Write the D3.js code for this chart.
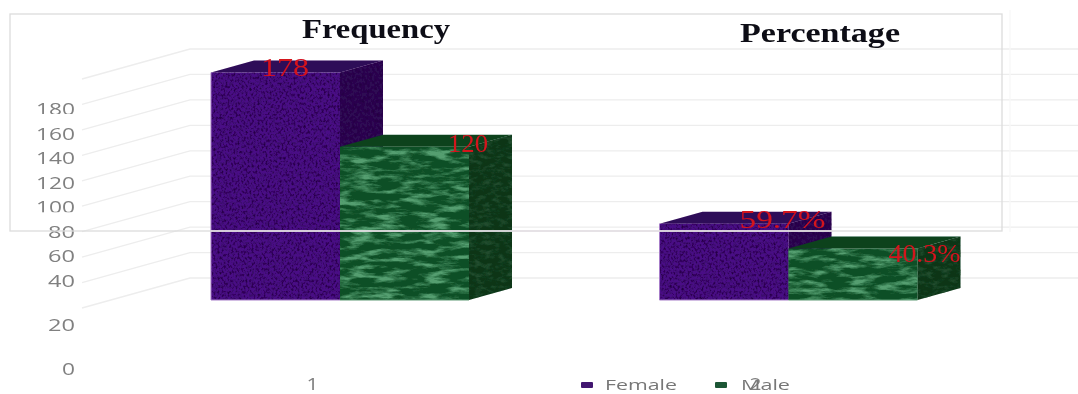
<!DOCTYPE html>
<html>
<head>
<meta charset="utf-8">
<script src="https://cdn.jsdelivr.net/npm/d3@7"></script>
<style>
    html, body { margin: 0; padding: 0; background: #fff; overflow: hidden; }
    svg { display: block; }
    .tick-label text { font-family: "Open Sans", sans-serif; fill: #808080; }
    .chart-title { font-family: "Liberation Serif", serif; font-weight: bold; font-size: 28px; fill: #0c0c14; }
    .value-label { font-family: "Liberation Serif", serif; font-size: 25px; fill: #d3121f; }
    .legend-label { font-family: "Open Sans", sans-serif; font-size: 15px; fill: #777; }
</style>
</head>
<body>
<svg id="chart"></svg>
<script>
    const WIDTH = 1078;
    const HEIGHT = 394;

    // Values
    const categories = ['1', '2'];
    const titles = ['Frequency', 'Percentage'];
    const seriesNames = ['Female', 'Male'];
    const femaleValues = [178, 59.7];
    const maleValues = [120, 40.3];
    const femaleLabels = ['178', '59.7%'];
    const maleLabels = ['120', '40.3%'];
    const axisTicks = [0, 20, 40, 60, 80, 100, 120, 140, 160, 180];

    const DEPTH_X = 43;
    const DEPTH_Y = 12;
    const BAR_WIDTH = 129;

    const COLORS = {
        Female: { front: '#4a0c86', top: '#2f0a58', side: '#2d0752', edge: '#a67cc8', swatch: '#43176f' },
        Male: { front: '#0e4f26', top: '#0b431f', side: '#0a3517', edge: '#5c9a74', swatch: '#1f5634' }
    };

    const svg = d3.select('#chart').attr('width', WIDTH).attr('height', HEIGHT);

    // Scales. The tick labels are not evenly spaced in the source, hence the piecewise one
    const groupX = d3.scalePoint().domain(categories).range([211, 659.5]);
    const seriesX = d3.scaleBand().domain(seriesNames).range([0, BAR_WIDTH * 2]);
    const barY = d3.scaleLinear().domain([0, 180]).range([300, 70]);
    const gridY = d3.scaleLinear().domain([0, 180]).range([308, 79]);
    const labelY = d3.scaleLinear().domain([0, 20, 40, 180]).range([369, 325, 281, 109]);
    const categoryX = d3.scalePoint().domain(categories).range([312, 755]);

    const defs = svg.append('defs');

    function addTexture(id, baseFrequency, octaves, color, alphaGain, alphaShift) {
        const f = defs.append('filter')
            .attr('id', id)
            .attr('x', 0).attr('y', 0).attr('width', 1).attr('height', 1)
            .attr('color-interpolation-filters', 'sRGB');
        f.append('feTurbulence')
            .attr('type', 'fractalNoise')
            .attr('baseFrequency', baseFrequency)
            .attr('numOctaves', octaves)
            .attr('seed', 7)
            .attr('result', 'noise');
        f.append('feColorMatrix')
            .attr('in', 'noise')
            .attr('type', 'matrix')
            .attr('values', `0 0 0 0 ${color[0]} 0 0 0 0 ${color[1]} 0 0 0 0 ${color[2]} ${alphaGain} 0 0 0 ${alphaShift}`)
            .attr('result', 'tint');
        f.append('feComposite')
            .attr('in', 'tint')
            .attr('in2', 'SourceGraphic')
            .attr('operator', 'in')
            .attr('result', 'clipped');
        const merge = f.append('feMerge');
        merge.append('feMergeNode').attr('in', 'SourceGraphic');
        merge.append('feMergeNode').attr('in', 'clipped');
    }

    addTexture('tex-female', '0.5 0.35', 3, [0.14, 0.0, 0.26], 2.4, -1.0);
    addTexture('tex-male', '0.04 0.16', 5, [0.33, 0.62, 0.44], 3.6, -1.6);
    addTexture('tex-male-side', '0.12 0.22', 4, [0.13, 0.3, 0.18], 3, -1.3);
    addTexture('tex-female-side', '0.4 0.3', 2, [0.12, 0.0, 0.22], 1.6, -0.7);

    const soften = defs.append('filter').attr('id', 'soften');
    soften.append('feGaussianBlur').attr('stdDeviation', 0.55);

    const root = svg.append('g').attr('filter', 'url(#soften)');

    // Gridlines: slanted floor part, then flat back wall part
    const grid = root.append('g').attr('fill', 'none').attr('stroke', '#ededed').attr('stroke-width', 1.3);
    grid.selectAll('path')
        .data(axisTicks)
        .join('path')
        .attr('d', d => `M82,${gridY(d)}L190,${gridY(d) - 30}L${WIDTH},${gridY(d) - 30}`);

    grid.append('line')
        .attr('x1', 1010).attr('x2', 1010).attr('y1', 10).attr('y2', 232)
        .attr('stroke', '#f8f8f8');

    // Tick labels
    const yAxis = d3.axisLeft(labelY).tickValues(axisTicks).tickSize(0).tickPadding(0);
    const yAxisG = root.append('g')
        .attr('class', 'tick-label')
        .attr('transform', 'translate(75,0)')
        .call(yAxis);
    yAxisG.select('.domain').remove();
    yAxisG.selectAll('text')
        .attr('font-size', 17)
        .attr('textLength', d => d >= 100 ? 39 : d > 0 ? 27 : 13)
        .attr('lengthAdjust', 'spacingAndGlyphs');

    // the source clips a few of these labels with white strips
    root.append('g').attr('fill', '#fff')
        .selectAll('rect')
        .data([180, 100])
        .join('rect')
        .attr('x', 30).attr('width', 46)
        .attr('y', d => labelY(d) + 5).attr('height', 3);

    const xAxis = d3.axisBottom(categoryX).tickSize(0).tickPadding(0);
    const xAxisG = root.append('g')
        .attr('class', 'tick-label')
        .attr('transform', 'translate(0,379)')
        .call(xAxis);
    xAxisG.select('.domain').remove();
    xAxisG.selectAll('text')
        .attr('font-size', 16)
        .attr('textLength', 12)
        .attr('lengthAdjust', 'spacingAndGlyphs');

    // Bars, back to front so male sits over the female side wall
    const barData = [];
    seriesNames.forEach((name, s) => {
        const values = s === 0 ? femaleValues : maleValues;
        const labels = s === 0 ? femaleLabels : maleLabels;
        categories.forEach((cat, i) => {
            barData.push({ name, cat, value: values[i], label: labels[i] });
        });
    });

    function facePoints(d) {
        const x0 = groupX(d.cat) + seriesX(d.name);
        const x1 = x0 + BAR_WIDTH;
        const y0 = barY(d.value);
        const y1 = barY(0);
        return {
            front: [[x0, y0], [x1, y0], [x1, y1], [x0, y1]],
            top: [[x0, y0], [x0 + DEPTH_X, y0 - DEPTH_Y], [x1 + DEPTH_X, y0 - DEPTH_Y], [x1, y0]],
            side: [[x1, y0], [x1 + DEPTH_X, y0 - DEPTH_Y], [x1 + DEPTH_X, y1 - DEPTH_Y], [x1, y1]]
        };
    }

    const bars = root.append('g').selectAll('g')
        .data(barData)
        .join('g');

    bars.append('polygon')
        .attr('points', d => facePoints(d).side.join(' '))
        .attr('fill', d => COLORS[d.name].side)
        .attr('filter', d => d.name === 'Male' ? 'url(#tex-male-side)' : 'url(#tex-female-side)');

    bars.append('polygon')
        .attr('points', d => facePoints(d).top.join(' '))
        .attr('fill', d => COLORS[d.name].top);

    bars.append('polygon')
        .attr('points', d => facePoints(d).front.join(' '))
        .attr('fill', d => COLORS[d.name].front)
        .attr('filter', d => d.name === 'Male' ? 'url(#tex-male)' : 'url(#tex-female)');

    // thin pale edge along the left and bottom of each bar
    bars.append('path')
        .attr('fill', 'none')
        .attr('stroke', d => COLORS[d.name].edge)
        .attr('stroke-width', 1)
        .attr('d', d => {
            const f = facePoints(d).front;
            return d.name === 'Female'
                ? `M${f[0]}L${f[3]}L${f[2]}`
                : `M${f[3]}L${f[2]}`;
        });

    // Frame laid over the chart, its bottom edge cuts across the bars
    root.append('rect')
        .attr('x', 10).attr('y', 14)
        .attr('width', 992).attr('height', 217)
        .attr('fill', 'none')
        .attr('stroke', '#dcdcdc')
        .attr('stroke-width', 1.3);
    root.append('line')
        .attr('x1', 211).attr('x2', 833)
        .attr('y1', 231).attr('y2', 231)
        .attr('stroke', '#e6e0e6')
        .attr('stroke-width', 1.4);

    // Titles
    const titleX = [302, 740];
    const titleBase = [38, 42];
    const titleWidth = [148, 160];
    root.append('g').selectAll('text')
        .data(titles)
        .join('text')
        .attr('class', 'chart-title')
        .attr('x', (d, i) => titleX[i])
        .attr('y', (d, i) => titleBase[i])
        .attr('textLength', (d, i) => titleWidth[i])
        .attr('lengthAdjust', 'spacingAndGlyphs')
        .text(d => d);

    // Value labels, offsets measured from the bar's top left front corner
    const labelOffset = {
        '178': { dx: 74, dy: 3, w: 48 },
        '120': { dx: 128, dy: 5, w: 40 },
        '59.7%': { dx: 123, dy: 4, w: 86 },
        '40.3%': { dx: 136, dy: 13, w: 72 }
    };
    root.append('g').selectAll('text')
        .data(barData)
        .join('text')
        .attr('class', 'value-label')
        .attr('text-anchor', 'middle')
        .attr('x', d => groupX(d.cat) + seriesX(d.name) + labelOffset[d.label].dx)
        .attr('y', d => barY(d.value) + labelOffset[d.label].dy)
        .attr('textLength', d => labelOffset[d.label].w)
        .attr('lengthAdjust', 'spacingAndGlyphs')
        .text(d => d.label);

    // Legend
    const legendX = d3.scalePoint().domain(seriesNames).range([581, 715]);
    const legendWidth = { Female: 72, Male: 49 };
    const legend = root.append('g').selectAll('g')
        .data(seriesNames)
        .join('g')
        .attr('transform', d => `translate(${legendX(d)},382)`);
    legend.append('rect')
        .attr('width', 12).attr('height', 6).attr('rx', 1)
        .attr('fill', d => COLORS[d].swatch);
    legend.append('text')
        .attr('class', 'legend-label')
        .attr('x', d => d === 'Female' ? 24 : 26)
        .attr('y', 7.5)
        .attr('textLength', d => legendWidth[d])
        .attr('lengthAdjust', 'spacingAndGlyphs')
        .text(d => d);
</script>
</body>
</html>
